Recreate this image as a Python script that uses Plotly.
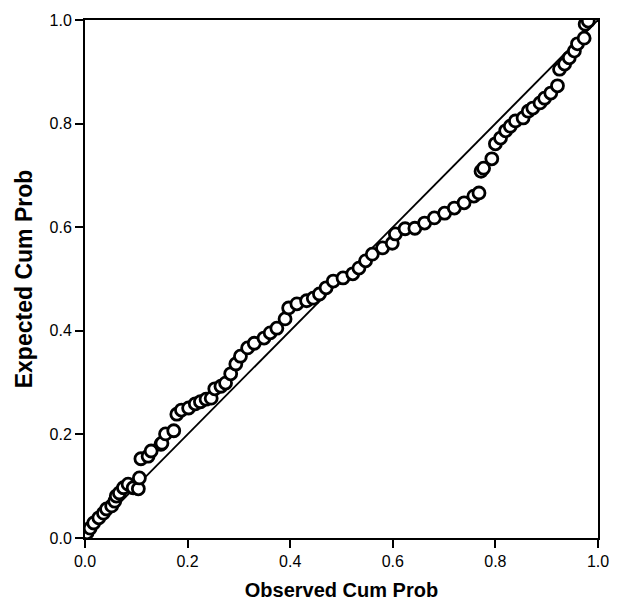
import plotly.graph_objects as go

observed = [0.004, 0.010, 0.017, 0.027, 0.036, 0.042, 0.052, 0.058, 0.061, 0.067,
            0.075, 0.084, 0.094, 0.104, 0.106, 0.109, 0.123, 0.129, 0.148, 0.150,
            0.157, 0.173, 0.179, 0.188, 0.202, 0.215, 0.225, 0.236, 0.246, 0.253,
            0.265, 0.274, 0.284, 0.294, 0.303, 0.317, 0.330, 0.349, 0.361, 0.374,
            0.390, 0.397, 0.413, 0.432, 0.445, 0.457, 0.470, 0.484, 0.503, 0.522,
            0.534, 0.547, 0.560, 0.580, 0.599, 0.605, 0.624, 0.643, 0.662, 0.681,
            0.701, 0.720, 0.739, 0.758, 0.768, 0.772, 0.777, 0.793, 0.800, 0.810,
            0.820, 0.829, 0.839, 0.854, 0.864, 0.873, 0.887, 0.896, 0.908, 0.921,
            0.925, 0.935, 0.944, 0.954, 0.960, 0.973, 0.975, 0.981]
expected = [0.010, 0.019, 0.029, 0.039, 0.048, 0.056, 0.062, 0.071, 0.081, 0.087,
            0.097, 0.104, 0.097, 0.095, 0.116, 0.153, 0.158, 0.168, 0.181, 0.183,
            0.201, 0.207, 0.239, 0.247, 0.251, 0.259, 0.263, 0.268, 0.270, 0.288,
            0.293, 0.299, 0.317, 0.336, 0.351, 0.367, 0.376, 0.386, 0.396, 0.405,
            0.423, 0.444, 0.452, 0.458, 0.463, 0.471, 0.483, 0.496, 0.502, 0.510,
            0.521, 0.535, 0.548, 0.560, 0.569, 0.587, 0.597, 0.598, 0.608, 0.618,
            0.627, 0.637, 0.647, 0.660, 0.666, 0.708, 0.714, 0.732, 0.761, 0.772,
            0.786, 0.795, 0.805, 0.811, 0.824, 0.830, 0.840, 0.849, 0.859, 0.873,
            0.905, 0.915, 0.927, 0.940, 0.954, 0.965, 0.992, 0.998]

ref_line = [0.0, 1.0]
tick_vals = [0.0, 0.2, 0.4, 0.6, 0.8, 1.0]
tick_text = ["0.0", "0.2", "0.4", "0.6", "0.8", "1.0"]

fig = go.Figure()
fig.add_trace(go.Scatter(x=ref_line, y=ref_line, mode="lines",
                         line=dict(color="black", width=1.8), hoverinfo="skip",
                         showlegend=False))
fig.add_trace(go.Scatter(x=observed, y=expected, mode="markers",
                         marker=dict(symbol="circle", size=12, color="white",
                                     line=dict(color="black", width=2.8)),
                         showlegend=False))

axis_common = dict(range=[0, 1], tickvals=tick_vals, ticktext=tick_text,
                   showgrid=False, zeroline=False, showline=True, linecolor="black",
                   linewidth=2, mirror=True, ticks="outside", ticklen=8,
                   tickwidth=2, tickcolor="black",
                   tickfont=dict(family="Liberation Sans, Arial", size=16, color="black"))

fig.update_layout(
    width=621, height=612,
    margin=dict(l=85, r=15, t=19, b=74),
    paper_bgcolor="white", plot_bgcolor="white",
    xaxis=dict(**axis_common,
               title=dict(text="<b>Observed Cum Prob</b>", standoff=14,
                          font=dict(family="Liberation Sans, Arial", size=20, color="black"))),
    yaxis=dict(**axis_common,
               title=dict(text="<b>Expected Cum Prob</b>", standoff=10,
                          font=dict(family="Liberation Sans, Arial", size=23, color="black"))),
)

fig.write_html("out.html")
